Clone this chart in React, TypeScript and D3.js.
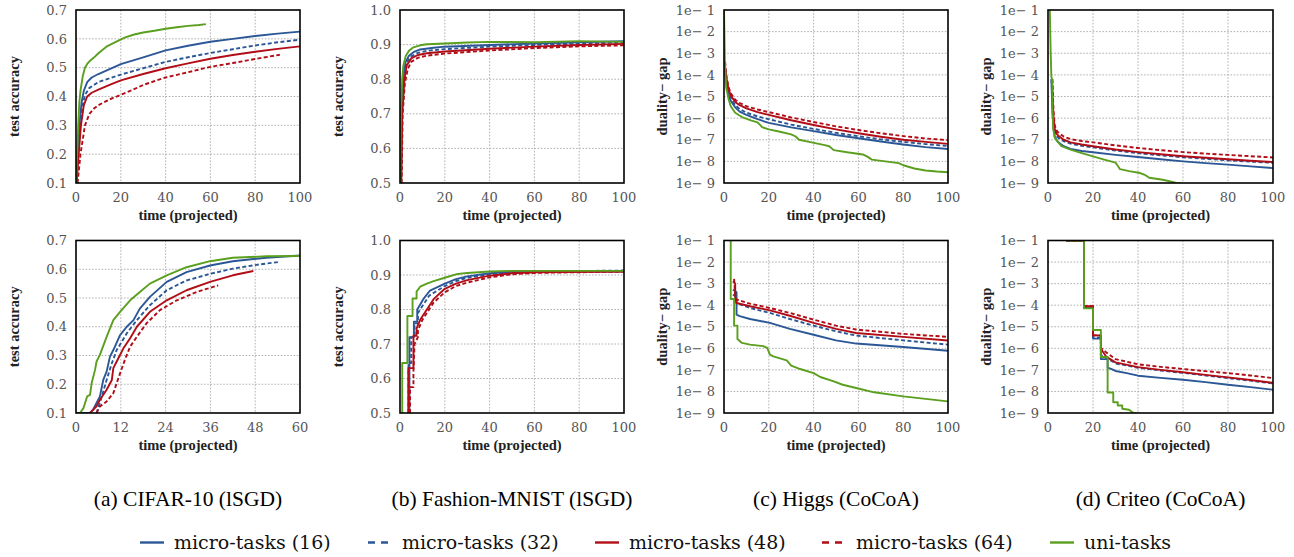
import React from "react";
import * as d3 from "d3";

type Pt = [number, number];

// ---------- legend / series ----------
const SERIES_LABELS = ["micro-tasks (16)", "micro-tasks (32)", "micro-tasks (48)", "micro-tasks (64)", "uni-tasks"];
const SERIES_COLORS = ["#2b5797", "#2b5797", "#b10d17", "#b10d17", "#5b9f1e"];
const SERIES_DASHED = [false, true, false, true, false];

const CAPTIONS = ["(a) CIFAR-10 (lSGD)", "(b) Fashion-MNIST (lSGD)", "(c) Higgs (CoCoA)", "(d) Criteo (CoCoA)"];

// ---------- ticks ----------
const TIME_TICKS = [0, 20, 40, 60, 80, 100];
const TIME_TICKS_CIFAR_BOTTOM = [0, 12, 24, 36, 48, 60];
const ACC_TICKS_CIFAR = [0.1, 0.2, 0.3, 0.4, 0.5, 0.6, 0.7];
const ACC_TICKS_FASHION = [0.5, 0.6, 0.7, 0.8, 0.9, 1.0];
const GAP_TICKS_LOG10 = [-1, -2, -3, -4, -5, -6, -7, -8, -9];

// ---------- (a) CIFAR-10 top: time vs test accuracy ----------
const cifarTop16: Pt[] = [[0,0.1],[0.8,0.2],[1.5,0.3],[2.5,0.38],[3.5,0.42],[5,0.45],[7,0.466],[10,0.478],[15,0.495],[20,0.512],[30,0.536],[40,0.56],[50,0.576],[60,0.59],[70,0.6],[80,0.61],[90,0.618],[100,0.625]];
const cifarTop32: Pt[] = [[0,0.1],[1,0.2],[2,0.3],[3,0.37],[4,0.405],[6,0.43],[8,0.44],[10,0.45],[15,0.463],[20,0.476],[30,0.498],[40,0.52],[50,0.536],[60,0.551],[70,0.564],[80,0.577],[90,0.588],[100,0.597]];
const cifarTop48: Pt[] = [[0.3,0.1],[1.2,0.2],[2.2,0.3],[3.5,0.37],[5,0.4],[7,0.413],[10,0.424],[15,0.44],[20,0.456],[30,0.478],[40,0.498],[50,0.515],[60,0.531],[70,0.544],[80,0.555],[90,0.565],[100,0.574]];
const cifarTop64: Pt[] = [[0.7,0.1],[2,0.2],[3,0.25],[4,0.3],[6,0.34],[8,0.358],[10,0.37],[15,0.39],[20,0.406],[25,0.422],[30,0.44],[40,0.466],[50,0.484],[60,0.503],[70,0.516],[80,0.53],[91,0.545]];
const cifarTopUni: Pt[] = [[0,0.1],[0.5,0.2],[1,0.3],[1.5,0.38],[2,0.42],[3,0.47],[4,0.5],[5,0.513],[6,0.522],[8,0.535],[10,0.55],[14,0.575],[18,0.59],[22,0.605],[26,0.615],[30,0.622],[35,0.628],[40,0.635],[45,0.64],[50,0.645],[55,0.648],[58,0.651]];

// ---------- (b) Fashion-MNIST top ----------
const fashionTop16: Pt[] = [[0.4,0.5],[0.8,0.72],[1.5,0.81],[2.5,0.85],[4,0.868],[6,0.878],[9,0.886],[15,0.891],[20,0.894],[40,0.899],[60,0.903],[80,0.907],[100,0.91]];
const fashionTop32: Pt[] = [[0.5,0.5],[1,0.74],[1.8,0.81],[3,0.85],[5,0.866],[8,0.876],[12,0.882],[20,0.887],[40,0.894],[60,0.899],[80,0.903],[100,0.906]];
const fashionTop48: Pt[] = [[0.6,0.5],[1,0.7],[2,0.8],[3,0.84],[5,0.86],[8,0.87],[12,0.875],[20,0.88],[40,0.888],[60,0.894],[80,0.899],[100,0.902]];
const fashionTop64: Pt[] = [[0.7,0.5],[1.2,0.7],[2.2,0.79],[3.5,0.83],[5,0.85],[8,0.862],[12,0.868],[20,0.874],[40,0.883],[60,0.89],[80,0.895],[100,0.898]];
const fashionTopUni: Pt[] = [[0,0.5],[0.5,0.72],[1,0.8],[1.5,0.84],[2.5,0.866],[4,0.882],[6,0.892],[9,0.898],[12,0.901],[20,0.903],[30,0.906],[40,0.908],[60,0.907],[80,0.91],[100,0.908]];

// ---------- (c) Higgs top: log10(duality gap) ----------
const higgsTop16: Pt[] = [[0.5,-3.8],[1,-4.4],[2,-4.9],[3,-5.2],[5,-5.5],[7,-5.7],[10,-5.85],[15,-6.05],[20,-6.22],[30,-6.43],[40,-6.6],[50,-6.78],[60,-6.93],[70,-7.08],[80,-7.22],[90,-7.34],[100,-7.43]];
const higgsTop32: Pt[] = [[0.5,-3.8],[1,-4.3],[2,-4.8],[3,-5.1],[5,-5.4],[7,-5.58],[10,-5.75],[15,-5.92],[20,-6.05],[30,-6.3],[40,-6.5],[50,-6.68],[60,-6.84],[70,-6.98],[80,-7.1],[90,-7.2],[100,-7.29]];
const higgsTop48: Pt[] = [[0.5,-3.6],[1,-4.1],[2,-4.65],[3,-4.95],[5,-5.25],[7,-5.4],[10,-5.55],[15,-5.72],[20,-5.85],[30,-6.1],[40,-6.32],[50,-6.52],[60,-6.7],[70,-6.86],[80,-7.0],[90,-7.1],[100,-7.19]];
const higgsTop64: Pt[] = [[0.5,-3.4],[1,-4.0],[2,-4.55],[3,-4.85],[5,-5.15],[7,-5.3],[10,-5.45],[15,-5.6],[20,-5.72],[30,-5.97],[40,-6.18],[50,-6.38],[60,-6.55],[70,-6.7],[80,-6.83],[90,-6.94],[100,-7.02]];
const higgsTopUni: Pt[] = [[0,-1],[0.4,-3.5],[1,-4.6],[2,-5.1],[3,-5.45],[5,-5.75],[8,-5.95],[12,-6.1],[15,-6.2],[16,-6.3],[17,-6.42],[20,-6.52],[25,-6.63],[30,-6.75],[32,-6.85],[33.5,-7.0],[38,-7.1],[45,-7.25],[47,-7.3],[49,-7.48],[55,-7.58],[62,-7.68],[64,-7.78],[66,-7.92],[72,-8.0],[78,-8.08],[80,-8.18],[85,-8.33],[90,-8.42],[95,-8.47],[100,-8.5]];

// ---------- (d) Criteo top: log10(duality gap) ----------
const criteoTop16: Pt[] = [[1.5,-4.2],[2,-5.8],[2.5,-6.5],[3,-6.85],[4,-7.05],[5,-7.15],[7,-7.3],[10,-7.42],[15,-7.52],[20,-7.58],[30,-7.7],[40,-7.8],[50,-7.9],[60,-8.0],[70,-8.08],[80,-8.15],[90,-8.23],[100,-8.31]];
const criteoTop32: Pt[] = [[1.6,-4.2],[2.1,-5.6],[2.5,-6.2],[3,-6.6],[4,-6.85],[5,-6.95],[7,-7.07],[10,-7.18],[15,-7.28],[20,-7.35],[30,-7.5],[40,-7.62],[50,-7.72],[60,-7.81],[70,-7.88],[80,-7.95],[90,-8.01],[100,-8.07]];
const criteoTop48: Pt[] = [[1.8,-4.2],[2.2,-5.4],[2.5,-6.0],[3,-6.5],[4,-6.75],[5,-6.85],[7,-7.0],[10,-7.12],[15,-7.22],[20,-7.3],[30,-7.45],[40,-7.57],[50,-7.67],[60,-7.76],[70,-7.83],[80,-7.9],[90,-7.97],[100,-8.03]];
const criteoTop64: Pt[] = [[2,-4.2],[2.3,-5.3],[2.6,-5.9],[3,-6.35],[4,-6.6],[5,-6.72],[7,-6.85],[10,-6.97],[15,-7.06],[20,-7.12],[30,-7.26],[40,-7.38],[50,-7.48],[60,-7.57],[70,-7.64],[80,-7.7],[90,-7.76],[100,-7.82]];
const criteoTopUni: Pt[] = [[0.8,-1],[1.2,-3],[1.5,-4.1],[1.8,-4.2],[2,-5.5],[2.3,-6.5],[3,-6.9],[4,-7.05],[6,-7.3],[10,-7.46],[15,-7.62],[20,-7.77],[25,-7.92],[30,-8.06],[31,-8.2],[32,-8.36],[36,-8.45],[41,-8.54],[43,-8.62],[45,-8.76],[51,-8.85],[54,-8.92],[57,-9.0],[70,-9.2]];

// ---------- (a) CIFAR-10 bottom ----------
const cifarBot16: Pt[] = [[0,0.1],[3.75,0.1],[4.6,0.112],[5.5,0.135],[6.4,0.158],[7.3,0.215],[8.2,0.244],[9.1,0.296],[10,0.319],[11.8,0.371],[13.6,0.4],[15.4,0.423],[17.1,0.463],[19.8,0.504],[24.3,0.556],[29.6,0.59],[35.9,0.613],[42,0.628],[51,0.64],[60,0.648]];
const cifarBot32: Pt[] = [[5.5,0.1],[6.4,0.135],[7.3,0.175],[8.2,0.215],[9.6,0.273],[10.9,0.319],[13.6,0.377],[16.3,0.423],[19.8,0.475],[24.3,0.527],[29.6,0.561],[35.9,0.584],[42,0.602],[49.3,0.617],[54.2,0.625]];
const cifarBot48: Pt[] = [[3.75,0.1],[5.5,0.123],[6.4,0.146],[8.2,0.181],[9.6,0.215],[10,0.256],[10.9,0.279],[12.7,0.325],[14.5,0.36],[16.3,0.4],[19.8,0.452],[24.3,0.492],[29.6,0.527],[35.9,0.556],[42,0.579],[47.5,0.594]];
const cifarBot64: Pt[] = [[5.5,0.1],[6.4,0.123],[8.2,0.14],[10,0.169],[10.9,0.204],[11.8,0.238],[13.1,0.285],[14.5,0.331],[16.3,0.365],[18.9,0.412],[22.5,0.458],[27,0.492],[32.3,0.521],[38.1,0.544]];
const cifarBotUni: Pt[] = [[1.07,0.1],[2,0.117],[3,0.158],[3.75,0.163],[4.2,0.204],[5.1,0.25],[5.5,0.279],[6.4,0.302],[8.2,0.365],[10,0.423],[11.8,0.452],[14.5,0.492],[17.1,0.521],[19.8,0.55],[24.3,0.579],[29.6,0.607],[35.9,0.628],[42,0.64],[51,0.645],[60,0.646]];

// ---------- (b) Fashion-MNIST bottom ----------
const fashionBot16: Pt[] = [[4.2,0.5],[4.2,0.72],[6.2,0.72],[6.2,0.765],[7.7,0.765],[7.7,0.8],[10.4,0.83],[13.4,0.855],[20,0.875],[25,0.888],[30,0.896],[40,0.905],[50,0.909],[60,0.91],[100,0.91]];
const fashionBot32: Pt[] = [[3.8,0.5],[3.8,0.645],[5,0.645],[5,0.72],[6.5,0.72],[6.5,0.76],[8,0.76],[8,0.79],[10,0.81],[13,0.84],[20,0.868],[25,0.882],[30,0.892],[40,0.902],[50,0.908],[60,0.91],[100,0.913]];
const fashionBot48: Pt[] = [[3.7,0.5],[3.7,0.63],[6,0.63],[6,0.724],[7.4,0.724],[7.4,0.745],[9,0.77],[12,0.8],[15,0.83],[20,0.86],[25,0.875],[30,0.885],[40,0.898],[50,0.905],[61,0.908],[100,0.91]];
const fashionBot64: Pt[] = [[4.5,0.5],[4.5,0.575],[6,0.575],[6,0.62],[6.5,0.7],[8,0.72],[8,0.74],[10,0.77],[12,0.79],[15,0.82],[20,0.85],[25,0.868],[30,0.878],[40,0.893],[50,0.902],[60,0.906],[100,0.91]];
const fashionBotUni: Pt[] = [[1,0.5],[1,0.645],[3.3,0.645],[3.3,0.781],[5.6,0.781],[5.6,0.832],[7.4,0.832],[7.4,0.852],[9,0.866],[12,0.875],[15,0.882],[20,0.892],[25,0.902],[30,0.906],[40,0.91],[50,0.912],[100,0.912]];

// ---------- (c) Higgs bottom: log10(duality gap) ----------
const higgsBot16: Pt[] = [[4,-3.27],[5.6,-3.4],[5.6,-4.44],[7,-4.51],[11.6,-4.64],[20.5,-4.82],[29.4,-5.1],[40,-5.37],[50,-5.63],[59,-5.78],[80,-5.94],[100,-6.11]];
const higgsBot32: Pt[] = [[4,-3.5],[5.2,-3.6],[5.6,-3.9],[11.6,-4.13],[20.5,-4.36],[29.4,-4.64],[40,-4.95],[50,-5.21],[59,-5.41],[80,-5.63],[100,-5.83]];
const higgsBot48: Pt[] = [[4,-2.89],[5,-3.0],[5,-3.66],[5.6,-3.9],[11.6,-4.05],[20.5,-4.24],[29.4,-4.49],[40,-4.82],[50,-5.1],[59,-5.29],[80,-5.47],[100,-5.64]];
const higgsBot64: Pt[] = [[4.5,-2.78],[5,-3.5],[5.6,-3.74],[11.6,-3.93],[20.5,-4.13],[29.4,-4.36],[40,-4.67],[50,-4.95],[59,-5.13],[80,-5.33],[100,-5.47]];
const higgsBotUni: Pt[] = [[3,-1],[3,-3.71],[4.5,-3.71],[4.5,-4.95],[6,-4.95],[6,-5.57],[8,-5.75],[11.6,-5.83],[17.5,-5.9],[19.3,-5.98],[20.5,-6.29],[22,-6.37],[28,-6.56],[30,-6.8],[34,-6.96],[40,-7.15],[43,-7.33],[49,-7.53],[53,-7.69],[59,-7.84],[67,-8.04],[80,-8.23],[100,-8.46]];

// ---------- (d) Criteo bottom: log10(duality gap) ----------
const criteoBot16: Pt[] = [[8,-1],[16,-1],[16,-4.1],[20,-4.1],[20,-5.55],[23.5,-5.55],[23.5,-6.5],[26.5,-6.5],[26.5,-6.9],[28,-6.95],[30,-7.05],[35,-7.15],[40,-7.27],[50,-7.37],[60,-7.46],[70,-7.57],[80,-7.69],[90,-7.8],[100,-7.92]];
const criteoBot32: Pt[] = [[8,-1],[16,-1],[16,-4.1],[20,-4.1],[20,-5.5],[23.5,-5.5],[23.5,-6.3],[26,-6.45],[30,-6.7],[40,-6.9],[50,-7.03],[60,-7.14],[70,-7.26],[80,-7.38],[90,-7.5],[100,-7.63]];
const criteoBot48: Pt[] = [[8,-1],[16,-1],[16,-4.05],[20,-4.05],[20,-5.4],[23.5,-5.4],[23.5,-6.05],[24,-6.1],[26,-6.4],[30,-6.65],[40,-6.87],[50,-7.0],[60,-7.11],[70,-7.23],[80,-7.35],[90,-7.47],[100,-7.6]];
const criteoBot64: Pt[] = [[8,-1],[16,-1],[16,-4.05],[20,-4.05],[20,-5.4],[23.5,-5.4],[23.5,-5.98],[26,-6.2],[30,-6.5],[40,-6.74],[50,-6.86],[60,-6.96],[70,-7.06],[80,-7.15],[90,-7.26],[100,-7.38]];
const criteoBotUni: Pt[] = [[8,-1],[16,-1],[16,-4.15],[20,-4.15],[20,-5.15],[23.5,-5.15],[23.5,-6.4],[26.5,-6.4],[26.5,-8.05],[29,-8.05],[29,-8.5],[31,-8.5],[31,-8.65],[33,-8.65],[33,-8.8],[36,-8.85],[38,-9.0],[45,-9.1]];

type PanelDef = {
  row: number;
  col: number;
  log: boolean;
  xMax: number;
  xTicks: number[];
  yTicks: number[];
  series: Pt[][];
};

const PANELS: PanelDef[] = [
  { row: 0, col: 0, log: false, xMax: 100, xTicks: TIME_TICKS, yTicks: ACC_TICKS_CIFAR, series: [cifarTop16, cifarTop32, cifarTop48, cifarTop64, cifarTopUni] },
  { row: 0, col: 1, log: false, xMax: 100, xTicks: TIME_TICKS, yTicks: ACC_TICKS_FASHION, series: [fashionTop16, fashionTop32, fashionTop48, fashionTop64, fashionTopUni] },
  { row: 0, col: 2, log: true, xMax: 100, xTicks: TIME_TICKS, yTicks: GAP_TICKS_LOG10, series: [higgsTop16, higgsTop32, higgsTop48, higgsTop64, higgsTopUni] },
  { row: 0, col: 3, log: true, xMax: 100, xTicks: TIME_TICKS, yTicks: GAP_TICKS_LOG10, series: [criteoTop16, criteoTop32, criteoTop48, criteoTop64, criteoTopUni] },
  { row: 1, col: 0, log: false, xMax: 60, xTicks: TIME_TICKS_CIFAR_BOTTOM, yTicks: ACC_TICKS_CIFAR, series: [cifarBot16, cifarBot32, cifarBot48, cifarBot64, cifarBotUni] },
  { row: 1, col: 1, log: false, xMax: 100, xTicks: TIME_TICKS, yTicks: ACC_TICKS_FASHION, series: [fashionBot16, fashionBot32, fashionBot48, fashionBot64, fashionBotUni] },
  { row: 1, col: 2, log: true, xMax: 100, xTicks: TIME_TICKS, yTicks: GAP_TICKS_LOG10, series: [higgsBot16, higgsBot32, higgsBot48, higgsBot64, higgsBotUni] },
  { row: 1, col: 3, log: true, xMax: 100, xTicks: TIME_TICKS, yTicks: GAP_TICKS_LOG10, series: [criteoBot16, criteoBot32, criteoBot48, criteoBot64, criteoBotUni] },
];

const COLS = [
  { l: 76, r: 300 },
  { l: 400, r: 624 },
  { l: 724, r: 948 },
  { l: 1048, r: 1273 },
];
const ROWS = [
  { t: 10, b: 183 },
  { t: 240.5, b: 413 },
];

const TICK_STYLE: React.CSSProperties = { fontFamily: '"DejaVu Serif", "Liberation Serif", serif' };
const TITLE_STYLE: React.CSSProperties = { fontFamily: '"Liberation Serif", "DejaVu Serif", serif' };

function Panel({ p, idx }: { p: PanelDef; idx: number }) {
  const { l, r } = COLS[p.col];
  const { t, b } = ROWS[p.row];
  const x = d3.scaleLinear().domain([0, p.xMax]).range([l, r]);
  const yDomain = p.log ? [-9, -1] : [p.yTicks[0], p.yTicks[p.yTicks.length - 1]];
  const y = d3.scaleLinear().domain(yDomain).range([b, t]);
  const line = d3
    .line<Pt>()
    .x((d) => x(d[0]))
    .y((d) => y(d[1]));
  const fmt = d3.format(".1f");
  const clipId = `clip-${idx}`;
  const midY = (t + b) / 2;
  return (
    <g>
      <defs>
        <clipPath id={clipId}>
          <rect x={l} y={t} width={r - l} height={b - t} />
        </clipPath>
      </defs>
      {p.xTicks.slice(1, -1).map((v) => (
        <line key={`gx${v}`} x1={x(v)} x2={x(v)} y1={t} y2={b} stroke="#a8a8a8" strokeWidth={0.9} strokeDasharray="1.6,1.6" />
      ))}
      {p.yTicks.slice(1, -1).map((v) => (
        <line key={`gy${v}`} x1={l} x2={r} y1={y(v)} y2={y(v)} stroke="#a8a8a8" strokeWidth={0.9} strokeDasharray="1.6,1.6" />
      ))}
      <g clipPath={`url(#${clipId})`}>
        {p.series.map((s, i) => (
          <path
            key={i}
            d={line(s) || ""}
            fill="none"
            stroke={SERIES_COLORS[i]}
            strokeWidth={1.9}
            strokeDasharray={SERIES_DASHED[i] ? "4,2.4" : undefined}
            strokeLinejoin="round"
          />
        ))}
      </g>
      <rect x={l} y={t} width={r - l} height={b - t} fill="none" stroke="#000" strokeWidth={1.6} />
      {p.xTicks.map((v) => (
        <text key={`xt${v}`} x={x(v)} y={b + 18.5} textAnchor="middle" style={TICK_STYLE} fontSize={13} fill="#555">
          {v}
        </text>
      ))}
      {p.yTicks.map((v) => (
        <text key={`yt${v}`} x={l - 9} y={y(v)} dy="0.36em" textAnchor="end" style={TICK_STYLE} fontSize={13} fill="#555">
          {p.log ? `1e\u2212 ${-v}` : fmt(v)}
        </text>
      ))}
      <text x={(l + r) / 2} y={b + 37} textAnchor="middle" style={TITLE_STYLE} fontWeight="bold" fontSize={14.5} fill="#222">
        time (projected)
      </text>
      <text
        transform={`translate(${l - 62},${midY}) rotate(-90)`}
        dy="0.35em"
        textAnchor="middle"
        style={TITLE_STYLE}
        fontWeight="bold"
        fontSize={14.5}
        fill="#222"
      >
        {p.log ? "duality\u2212 gap" : "test accuracy"}
      </text>
    </g>
  );
}

const LEGEND_X = [140, 368, 595, 822, 1050];

export default function App() {
  return (
    <svg width={1294} height={557} style={{ position: "absolute", left: 0, top: 0, background: "#fff" }}>
      <rect x={0} y={0} width={1294} height={557} fill="#fff" />
      {PANELS.map((p, i) => (
        <Panel key={i} p={p} idx={i} />
      ))}
      {CAPTIONS.map((c, i) => (
        <text key={c} x={(COLS[i].l + COLS[i].r) / 2} y={506} textAnchor="middle" style={TITLE_STYLE} fontSize={21.5} fill="#000">
          {c}
        </text>
      ))}
      {SERIES_LABELS.map((s, i) => (
        <g key={s}>
          <line
            x1={LEGEND_X[i]}
            x2={LEGEND_X[i] + 24}
            y1={542.5}
            y2={542.5}
            stroke={SERIES_COLORS[i]}
            strokeWidth={2.4}
            strokeDasharray={SERIES_DASHED[i] ? "7,6" : undefined}
          />
          <text x={LEGEND_X[i] + 34} y={549} style={TICK_STYLE} fontSize={19} fill="#111">
            {s}
          </text>
        </g>
      ))}
    </svg>
  );
}
